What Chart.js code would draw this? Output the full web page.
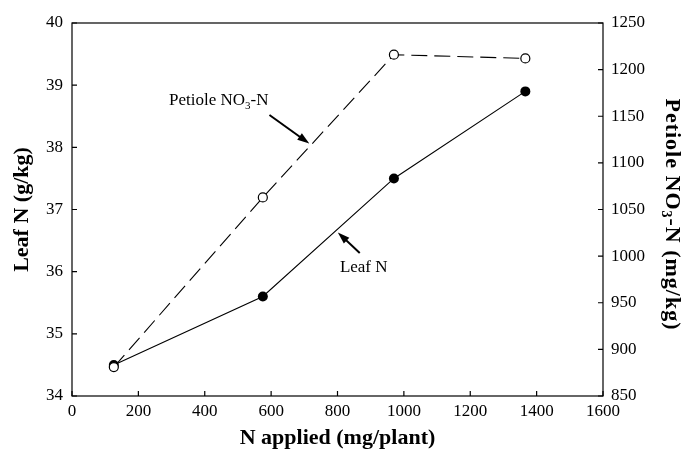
<!DOCTYPE html>
<html><head><meta charset="utf-8">
<script src="https://cdn.jsdelivr.net/npm/chart.js@4"></script>
<style>html,body{margin:0;padding:0;background:#fff}#wrap{width:683px;height:453px}</style>
</head><body><div id="wrap"><canvas id="c" width="683" height="453"></canvas></div>
<script>
// ---- data ----
const nApplied = [126, 575, 970, 1366];
const leafN = [34.5, 35.6, 37.5, 38.9];
const petioleNO3 = [881, 1063, 1216, 1212];
const xTickValues = [0, 200, 400, 600, 800, 1000, 1200, 1400, 1600];
const leafTickValues = [34, 35, 36, 37, 38, 39, 40];
const petioleTickValues = [850, 900, 950, 1000, 1050, 1100, 1150, 1200, 1250];
const xTitle = 'N applied (mg/plant)';
const leftTitle = 'Leaf N (g/kg)';
const rightTitleParts = ['Petiole NO', '3', '-N (mg/kg)'];
const petioleLabelParts = ['Petiole NO', '3', '-N'];
const leafLabel = 'Leaf N';

// annotation anchors in data units (x: N applied, y: Leaf N axis)
const petioleNote = { text: {x: 442, y: 38.75}, from: {x: 595, y: 38.52}, to: {x: 715, y: 38.06} };
const leafNote = { text: {x: 879, y: 36.07}, from: {x: 867, y: 36.30}, to: {x: 801, y: 36.63} };

const FONT = '"Liberation Serif", "Times New Roman", Times, serif';

function partsWidth(ctx, parts, font, subFont) {
  ctx.font = font; const a = ctx.measureText(parts[0]).width;
  ctx.font = subFont; const b = ctx.measureText(parts[1]).width;
  ctx.font = font; const c = ctx.measureText(parts[2]).width;
  return [a, b, c];
}
function drawParts(ctx, parts, font, subFont, subShift, cx, cy) {
  ctx.textBaseline = 'middle';
  ctx.textAlign = 'left';
  const [a, b, c] = partsWidth(ctx, parts, font, subFont);
  let x = cx - (a + b + c) / 2;
  ctx.font = font; ctx.fillText(parts[0], x, cy); x += a;
  ctx.font = subFont; ctx.fillText(parts[1], x, cy + subShift); x += b;
  ctx.font = font; ctx.fillText(parts[2], x, cy);
}
function arrow(ctx, x1, y1, x2, y2) {
  const ang = Math.atan2(y2 - y1, x2 - x1);
  const L = 12, W = 4;
  ctx.save();
  ctx.strokeStyle = '#000'; ctx.fillStyle = '#000'; ctx.lineWidth = 2;
  ctx.beginPath(); ctx.moveTo(x1, y1);
  ctx.lineTo(x2 - Math.cos(ang) * L * 0.8, y2 - Math.sin(ang) * L * 0.8); ctx.stroke();
  ctx.beginPath();
  ctx.moveTo(x2, y2);
  ctx.lineTo(x2 - Math.cos(ang) * L - Math.sin(ang) * W, y2 - Math.sin(ang) * L + Math.cos(ang) * W);
  ctx.lineTo(x2 - Math.cos(ang) * L + Math.sin(ang) * W, y2 - Math.sin(ang) * L - Math.cos(ang) * W);
  ctx.closePath(); ctx.fill();
  ctx.restore();
}

const framePlugin = {
  id: 'frame',
  afterDraw(chart) {
    const ctx = chart.ctx;
    const {left, right, top, bottom} = chart.chartArea;
    const sx = chart.scales.x, sy = chart.scales.y, sy1 = chart.scales.y1;
    ctx.save();
    ctx.strokeStyle = '#000'; ctx.lineWidth = 1.2;
    ctx.strokeRect(left, top, right - left, bottom - top);
    const T = 5;
    ctx.beginPath();
    xTickValues.forEach(v => { const p = sx.getPixelForValue(v); ctx.moveTo(p, bottom); ctx.lineTo(p, bottom - T); });
    leafTickValues.forEach(v => { const p = sy.getPixelForValue(v); ctx.moveTo(left, p); ctx.lineTo(left + T, p); });
    petioleTickValues.forEach(v => { const p = sy1.getPixelForValue(v); ctx.moveTo(right, p); ctx.lineTo(right - T, p); });
    ctx.stroke();

    // right axis title (rotated clockwise)
    ctx.fillStyle = '#000';
    ctx.save();
    ctx.translate(672, (top + bottom) / 2 + 5);
    ctx.rotate(Math.PI / 2);
    ctx.letterSpacing = '1px';
    drawParts(ctx, rightTitleParts, 'bold 22px ' + FONT, 'bold 14px ' + FONT, 6, 0, 0);
    ctx.restore();

    // annotations
    ctx.letterSpacing = '0px';
    drawParts(ctx, petioleLabelParts, '17px ' + FONT, '11px ' + FONT, 5,
      sx.getPixelForValue(petioleNote.text.x), sy.getPixelForValue(petioleNote.text.y));
    arrow(ctx, sx.getPixelForValue(petioleNote.from.x), sy.getPixelForValue(petioleNote.from.y),
      sx.getPixelForValue(petioleNote.to.x), sy.getPixelForValue(petioleNote.to.y));
    ctx.font = '17px ' + FONT; ctx.textAlign = 'center'; ctx.textBaseline = 'middle';
    ctx.fillText(leafLabel, sx.getPixelForValue(leafNote.text.x), sy.getPixelForValue(leafNote.text.y));
    arrow(ctx, sx.getPixelForValue(leafNote.from.x), sy.getPixelForValue(leafNote.from.y),
      sx.getPixelForValue(leafNote.to.x), sy.getPixelForValue(leafNote.to.y));
    ctx.restore();
  }
};

const tickFont = {family: FONT, size: 17};
const titleFont = {family: FONT, size: 22, weight: 'bold'};
const plain = v => String(v);

new Chart(document.getElementById('c'), {
  type: 'line',
  data: {
    datasets: [
      {
        label: 'Petiole NO3-N',
        data: nApplied.map((x, i) => ({x, y: petioleNO3[i]})),
        yAxisID: 'y1',
        borderColor: '#000', borderWidth: 1.1, borderDash: [16, 7],
        pointRadius: 4.5, pointBackgroundColor: '#fff', pointBorderColor: '#000', pointBorderWidth: 1.2,
        tension: 0, order: 0, clip: false
      },
      {
        label: 'Leaf N',
        data: nApplied.map((x, i) => ({x, y: leafN[i]})),
        yAxisID: 'y',
        borderColor: '#000', borderWidth: 1.1,
        pointRadius: 5, pointBackgroundColor: '#000', pointBorderColor: '#000', pointBorderWidth: 0,
        tension: 0, order: 1, clip: false
      }
    ]
  },
  options: {
    responsive: false,
    devicePixelRatio: 1,
    animation: false,
    layout: {padding: {top: 23, left: 0, right: 0, bottom: 0}},
    plugins: {legend: {display: false}, tooltip: {enabled: false}},
    scales: {
      x: {
        type: 'linear', min: 0, max: 1600,
        afterBuildTicks: s => { s.ticks = xTickValues.map(v => ({value: v})); },
        afterFit: s => { s.height = 57; },
        grid: {display: false, drawTicks: false}, border: {display: false},
        ticks: {color: '#000', font: tickFont, padding: 5, maxRotation: 0, autoSkip: false, callback: plain},
        title: {display: true, text: xTitle, color: '#000', font: titleFont, padding: {top: 0, bottom: 1}}
      },
      y: {
        type: 'linear', position: 'left', min: 34, max: 40,
        afterBuildTicks: s => { s.ticks = leafTickValues.map(v => ({value: v})); },
        afterFit: s => { s.width = 72; },
        grid: {display: false, drawTicks: false}, border: {display: false},
        ticks: {color: '#000', font: tickFont, padding: 9, autoSkip: false, callback: plain},
        title: {display: true, text: leftTitle, color: '#000', font: titleFont, padding: {top: 9, bottom: 0}}
      },
      y1: {
        type: 'linear', position: 'right', min: 850, max: 1250,
        afterBuildTicks: s => { s.ticks = petioleTickValues.map(v => ({value: v})); },
        afterFit: s => { s.width = 80; },
        grid: {display: false, drawTicks: false}, border: {display: false},
        ticks: {color: '#000', font: tickFont, padding: 8, autoSkip: false, callback: plain}
      }
    }
  },
  plugins: [framePlugin]
});
</script>
</body></html>
